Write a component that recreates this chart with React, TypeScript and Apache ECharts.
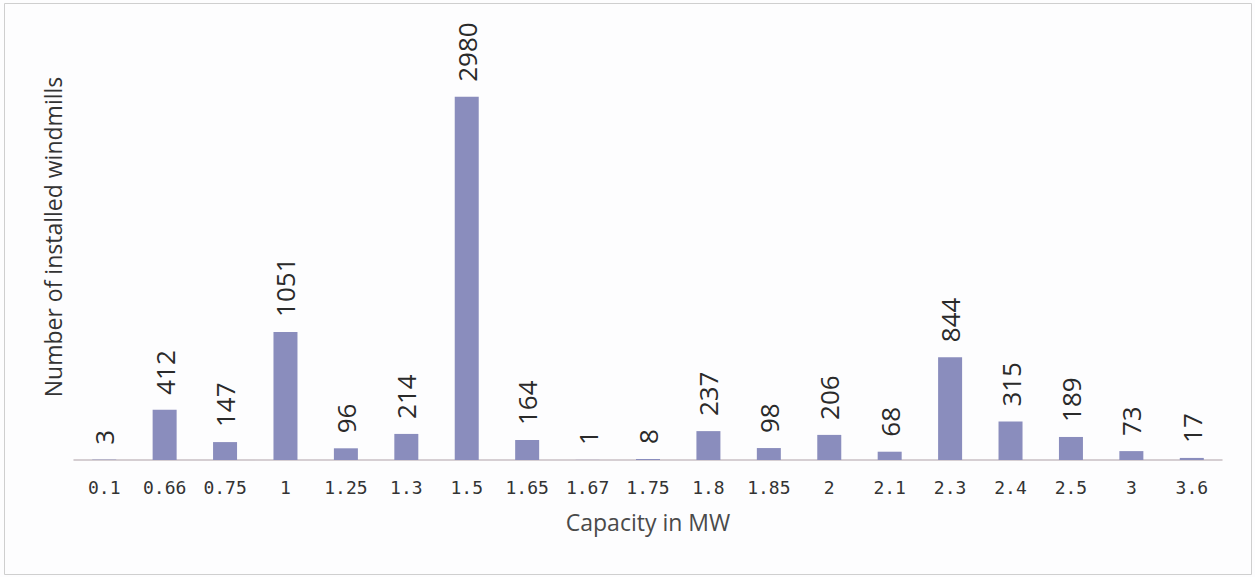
import React, { useEffect, useRef } from "react";
import * as echarts from "echarts";

const categories = ["0.1", "0.66", "0.75", "1", "1.25", "1.3", "1.5", "1.65", "1.67", "1.75", "1.8", "1.85", "2", "2.1", "2.3", "2.4", "2.5", "3", "3.6"];
const windmills = [3, 412, 147, 1051, 96, 214, 2980, 164, 1, 8, 237, 98, 206, 68, 844, 315, 189, 73, 17];
const xTitle = "Capacity in MW";
const yTitle = "Number of installed windmills";

export default function App() {
  const ref = useRef<HTMLDivElement>(null);
  useEffect(() => {
    const chart = echarts.init(ref.current!, null, { renderer: "svg" });
    const font = "Open Sans";
    chart.setOption({
      animation: false,
      backgroundColor: "#fdfdfe",
      grid: { left: 74, right: 33, top: 70, bottom: 117 },
      xAxis: {
        type: "category",
        data: categories,
        axisTick: { show: false },
        axisLine: { lineStyle: { color: "#c8bfc4", width: 1.5 } },
        axisLabel: { color: "#333", fontSize: 18, fontFamily: "DejaVu Sans Mono", margin: 18 },
        name: xTitle,
        nameLocation: "middle",
        nameGap: 50,
        nameTextStyle: { color: "#4a4a4a", fontSize: 23, fontFamily: font },
      },
      yAxis: {
        type: "value",
        min: 0,
        max: 3200,
        show: false,
        splitLine: { show: false },
      },
      graphic: [
        {
          type: "rect",
          shape: { x: 4.5, y: 3.5, width: 1247, height: 571 },
          style: { fill: "none", stroke: "#cfcfcf", lineWidth: 1 },
          silent: true,
        },
        {
          type: "text",
          x: 53,
          y: 237,
          rotation: Math.PI / 2,
          style: {
            text: yTitle,
            fill: "#333",
            fontSize: 23,
            fontFamily: font,
            align: "center",
            verticalAlign: "middle",
          },
        },
      ],
      series: [
        {
          type: "bar",
          data: windmills,
          barWidth: 24,
          itemStyle: { color: "#8a8dbd" },
          label: {
            show: true,
            position: "top",
            rotate: 90,
            align: "left",
            verticalAlign: "middle",
            distance: 15,
            color: "#2a2a2a",
            fontSize: 26,
            fontFamily: font,
          },
        },
      ],
    });
    return () => chart.dispose();
  }, []);
  return <div ref={ref} style={{ position: "absolute", left: 0, top: 0, width: 1255, height: 577 }} />;
}
